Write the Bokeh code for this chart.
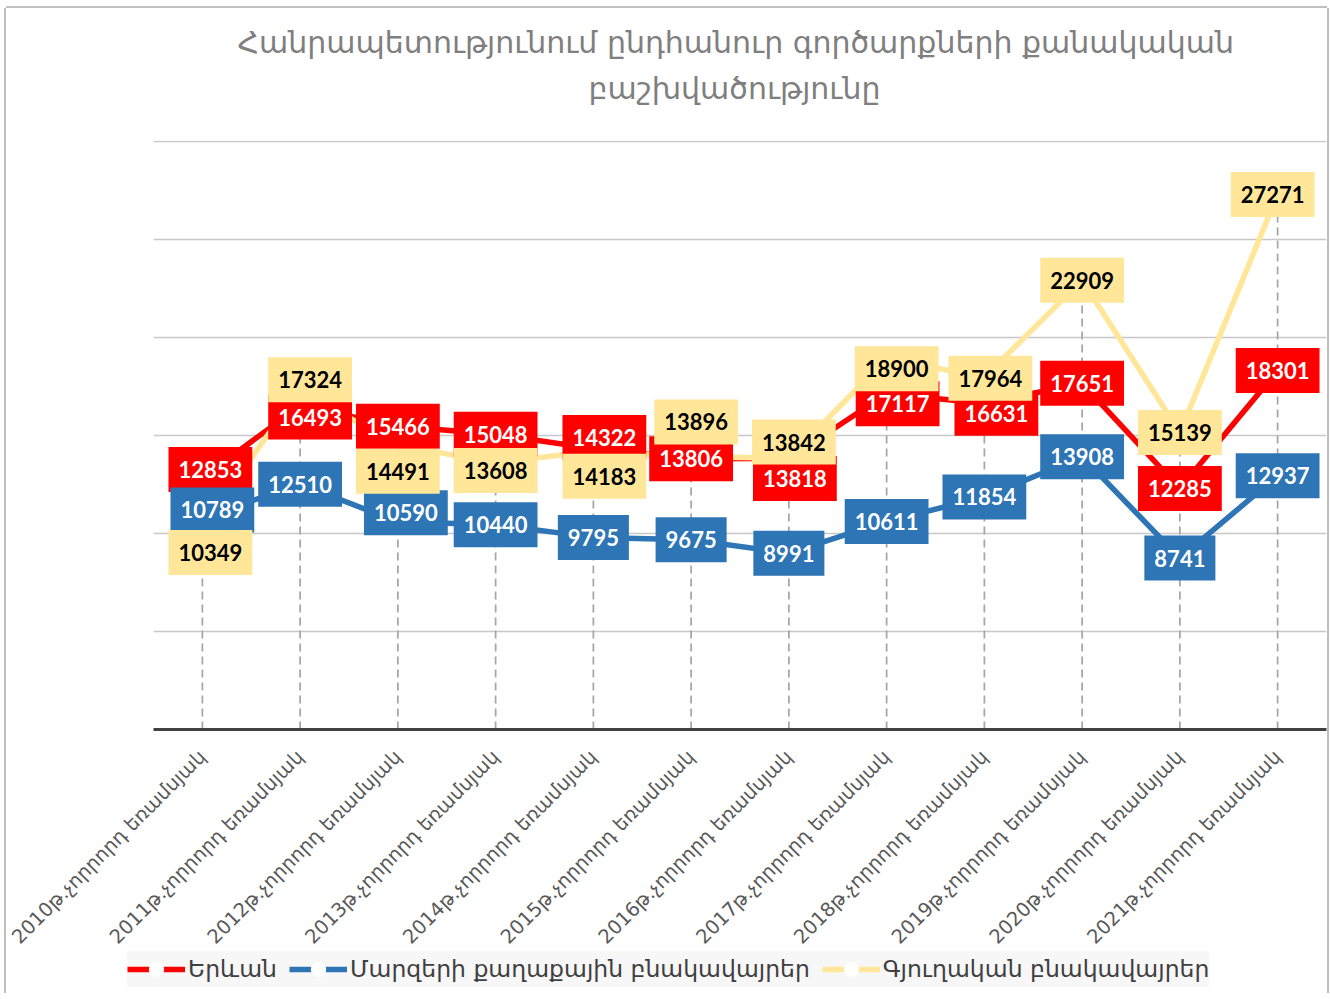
import math
from bokeh.plotting import figure
from bokeh.models import (FactorRange, Range1d, Title, Legend, LegendItem,
                          ColumnDataSource, FixedTicker)
from bokeh.core.properties import value
from bokeh.embed import file_html
from bokeh.resources import INLINE

# ---------------- data ----------------
categories = [
    "2010թ.չորրորդ եռամսյակ", "2011թ.չորրորդ եռամսյակ", "2012թ.չորրորդ եռամսյակ",
    "2013թ.չորրորդ եռամսյակ", "2014թ.չորրորդ եռամսյակ", "2015թ.չորրորդ եռամսյակ",
    "2016թ.չորրորդ եռամսյակ", "2017թ.չորրորդ եռամսյակ", "2018թ.չորրորդ եռամսյակ",
    "2019թ.չորրորդ եռամսյակ", "2020թ.չորրորդ եռամսյակ", "2021թ.չորրորդ եռամսյակ",
]
yerevan = [12853, 16493, 15466, 15048, 14322, 13806, 13818, 17117, 16631, 17651, 12285, 18301]
marz_urban = [10789, 12510, 10590, 10440, 9795, 9675, 8991, 10611, 11854, 13908, 8741, 12937]
rural = [10349, 17324, 14491, 13608, 14183, 13896, 13842, 18900, 17964, 22909, 15139, 27271]

series_names = ["Երևան", "Մարզերի քաղաքային բնակավայրեր", "Գյուղական բնակավայրեր"]
title_line1 = "Հանրապետությունում ընդհանուր գործարքների քանակական"
title_line2 = "բաշխվածությունը"
grid_ticks = [5000, 10000, 15000, 20000, 25000, 30000]

# label nudges (screen px, +down) as placed in the original chart
red_dx = [8, 10, 0, 0, 11, 0, 6, 11, 12, 0, 0, 0]
red_dy = [-8, 11, 0, 0, -11, 0, 20, 10, 10, 0, 0, 0]
blue_dx = [10, 0, 8, 0, 0, 0, 0, 0, 0, 0, 0, 0]
blue_dy = [-8, 0, -9, 0, 0, 0, 0, 0, 0, 0, 0, 0]
yel_dx = [8, 10, 0, 0, 11, 5, 5, 10, 6, 0, 0, -5]
yel_dy = [26, -10, 26, 8, 25, -35, -16, 10, 1, 0, 0, 0]

RED = "#FF0000"
BLUE = "#2E75B6"
YELLOW = "#FFE699"
FRAME_GREY = "#BFBFBF"

# ---------------- main figure ----------------
p = figure(width=1321, height=953, x_range=FactorRange(*categories),
           y_range=Range1d(0, 30030), y_axis_location=None,
           output_backend="svg", toolbar_location=None,
           min_border_left=147, min_border_right=1, min_border_top=132,
           min_border_bottom=232, outline_line_color=None,
           background_fill_color="white", border_fill_color="white")
p.styles = {"margin-left": "6px", "margin-top": "8px",
            "box-shadow": f"-2px 0 0 0 {FRAME_GREY}, 2px 0 0 0 {FRAME_GREY}, 0 -2px 0 0 {FRAME_GREY}"}

# titles (line 2 first: nearest to frame)
p.add_layout(Title(text=title_line2, align="left", offset=435, text_font="DejaVu Sans",
                   text_font_size="30px", text_font_style="normal", text_color="#7F7F7F",
                   standoff=70), "above")
p.add_layout(Title(text=title_line1, align="left", offset=84, text_font="DejaVu Sans",
                   text_font_size="30px", text_font_style="normal", text_color="#7F7F7F",
                   standoff=-52), "above")

# grid
p.xgrid.grid_line_color = None
p.ygrid.ticker = FixedTicker(ticks=grid_ticks)
p.ygrid.grid_line_color = "#C8C8C8"
p.ygrid.grid_line_width = 1.5

# x axis
ax = p.xaxis[0]
ax.axis_line_color = "#404040"
ax.axis_line_width = 3
ax.major_tick_line_color = None
ax.minor_tick_line_color = None
ax.major_label_orientation = math.pi / 4
ax.major_label_text_font = "DejaVu Sans"
ax.major_label_text_font_size = "19.5px"
ax.major_label_text_color = "#595959"
ax.major_label_standoff = 18

# drop lines
max_vals = [max(a, b, c) for a, b, c in zip(yerevan, marz_urban, rural)]
zeros = [0] * len(categories)
p.segment(x0=categories, y0=zeros, x1=categories, y1=max_vals,
          line_color="#A6A6A6", line_width=1.75, line_dash="8 5")

# lines
line_kw = dict(line_width=5.5, line_join="round")
p.line(categories, yerevan, line_color=RED, **line_kw)
p.line(categories, marz_urban, line_color=BLUE, **line_kw)
p.line(categories, rural, line_color=YELLOW, **line_kw)

# data labels
def add_labels(vals, dx, dy, bg, fg):
    src = ColumnDataSource(dict(x=categories, y=vals, t=[str(v) for v in vals], dx=dx, dy=dy))
    p.text(x="x", y="y", text="t", source=src, x_offset="dx", y_offset="dy",
           text_align="center", text_baseline="middle",
           text_font=value("Lato"), text_font_style="bold", text_font_size="22px",
           text_color=fg, background_fill_color=bg, padding=(10, 14))

add_labels(yerevan, red_dx, red_dy, RED, "white")
add_labels(marz_urban, blue_dx, blue_dy, BLUE, "white")
add_labels(rural, yel_dx, yel_dy, YELLOW, "black")

# ---------------- legend strip (overlaps the bottom of the main figure) ----------------
leg = figure(width=1321, height=56, x_range=FactorRange(*categories),
             y_range=Range1d(-2, -1), x_axis_location=None, y_axis_location=None,
             output_backend="svg", toolbar_location=None, min_border=0,
             outline_line_color=None, background_fill_alpha=0, border_fill_alpha=0)
leg.xgrid.grid_line_color = None
leg.ygrid.grid_line_color = None
leg.styles = {"margin-left": "6px", "margin-top": "-24px",
              "box-shadow": f"-2px 0 0 0 {FRAME_GREY}, 2px 0 0 0 {FRAME_GREY}"}

items = []
for name, vals, col in zip(series_names, [yerevan, marz_urban, rural], [RED, BLUE, YELLOW]):
    rl = leg.line(categories, vals, line_color=col, **line_kw)
    rm = leg.scatter(categories, vals, marker="circle", size=14, fill_color="white",
                     line_color="white")
    items.append(LegendItem(label=name, renderers=[rl, rm]))

legend = Legend(items=items, orientation="horizontal", location=(121, 6),
                label_text_font="DejaVu Sans", label_text_font_size="23.5px",
                label_text_color="#404040", glyph_width=58, glyph_height=36,
                label_standoff=3, spacing=12, padding=7, margin=0,
                background_fill_color="#F7F7F7", border_line_color=None)
leg.add_layout(legend, "center")

open("out.html", "w").write(file_html([p, leg], INLINE))
